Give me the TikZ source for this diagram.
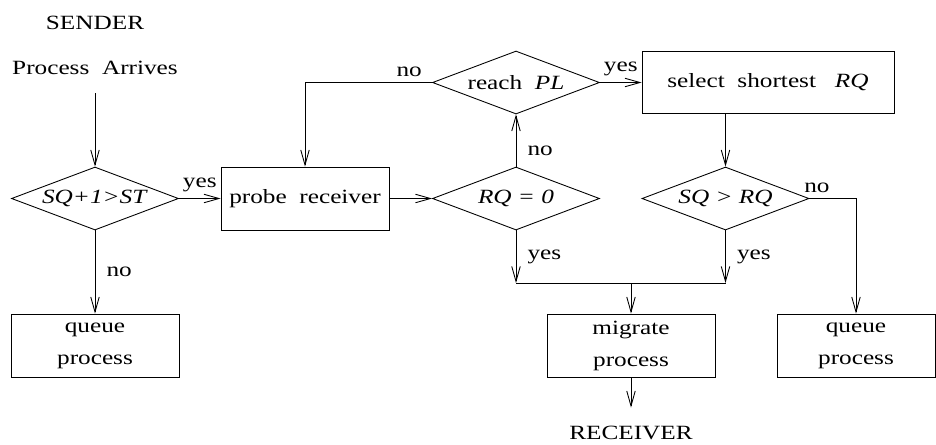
\documentclass[tikz,border=0pt]{standalone}
\usepackage{fontspec}
\setmainfont{Liberation Serif}[FakeStretch=1.25]
\usetikzlibrary{shapes.geometric,arrows.meta,positioning}

\begin{document}
\begin{tikzpicture}[
    >={Straight Barb[length=0.3cm,width=0.17cm]},
    line width=0.5pt,
    font=\fontsize{11.5}{18.2}\selectfont,
    box/.style={draw, rectangle, minimum width=3.36cm, minimum height=1.26cm, align=center, inner sep=2pt},
    test/.style={draw, diamond, aspect=2.65, minimum width=3.34cm, minimum height=1.26cm, inner sep=0pt},
    arrow/.style={->}
]
  \useasboundingbox (0,0) rectangle (18.72,-8.88);

  % sender side
  \node (send) at (1.9,-0.46) {SENDER};
  \node (arr) at (1.9,-1.36) {Process\ \ Arrives};
  \node[test] (sq) at (1.9,-3.97) {\textit{SQ+1>ST}};
  \node[box] (q1) at (1.9,-6.91) {queue\\process};
  \node[box] (probe) at (6.1,-3.97) {probe\ \ receiver};
  \node[test] (rq) at (10.32,-3.97) {\textit{RQ = 0}};
  \node[test] (pl) at (10.32,-1.65) {reach\ \ \textit{PL}};
  \node[box, minimum width=5.04cm, minimum height=1.24cm] (sel) at (15.36,-1.65) {select\ \ shortest\ \ \ \textit{RQ}};
  \node[test] (sqrq) at (14.51,-3.97) {\textit{SQ > RQ}};
  \node[box, minimum width=3.16cm] (q2) at (17.12,-6.91) {queue\\process};
  \node[box] (mig) at (12.62,-6.91) {migrate\\process};
  \node (recv) at (12.62,-8.66) {RECEIVER};

  % join point
  \coordinate (jm) at (12.62,-5.66);

  \draw[arrow, shorten <=7pt] (arr) -- (sq);
  \draw[arrow] (sq) -- node[above] {yes} (probe);
  \draw[arrow] (sq) -- node[right=3pt] {no} (q1);
  \draw[arrow] (probe) -- (rq);
  \draw[arrow] (rq) -- node[right=3pt, pos=0.3] {no} (pl);
  \draw[arrow] (pl.west) -| node[above, pos=0.09] {no} (probe.north);
  \draw[arrow] (pl) -- node[above] {yes} (sel);
  \draw[arrow] (sel.south -| sqrq.north) -- (sqrq.north);
  \draw[arrow] (sqrq.east) -| node[above, pos=0.08] {no} (q2.north);
  \draw[arrow] (rq.south) -- node[right=3pt] {yes} (rq.south |- jm);
  \draw[arrow] (sqrq.south) -- node[right=3pt] {yes} (sqrq.south |- jm);
  \draw (rq.south |- jm) -- (sqrq.south |- jm);
  \draw[arrow] (jm) -- (mig.north);
  \draw[arrow, shorten >=7pt] (mig) -- (recv);
\end{tikzpicture}
\end{document}
